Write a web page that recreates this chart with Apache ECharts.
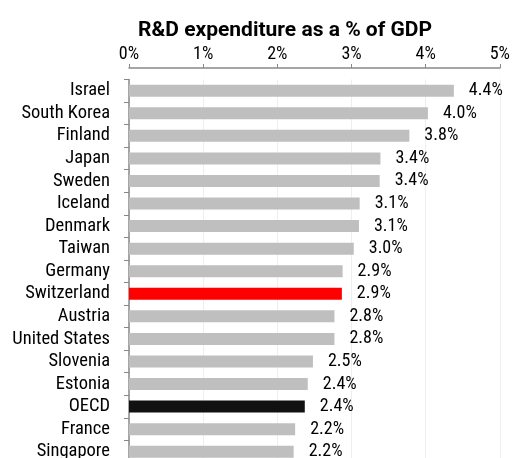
<!DOCTYPE html>
<html>
<head>
<meta charset="utf-8">
<script src="https://cdn.jsdelivr.net/npm/echarts@6/dist/echarts.min.js"></script>
<style>
  html, body { margin: 0; padding: 0; background: #fff; overflow: hidden; }
  #chart { width: 513px; height: 463px; }
</style>
</head>
<body>
<div id="chart"></div>
<script>
// countries, top to bottom
const countries = ["Israel", "South Korea", "Finland", "Japan", "Sweden", "Iceland", "Denmark", "Taiwan",
  "Germany", "Switzerland", "Austria", "United States", "Slovenia", "Estonia", "OECD", "France", "Singapore"];
// R&D spend, % of GDP
const values = [4.38, 4.03, 3.78, 3.39, 3.38, 3.11, 3.10, 3.03, 2.88, 2.87, 2.77, 2.77, 2.48, 2.41, 2.37, 2.24, 2.22];
const tickLabels = ["0%", "1%", "2%", "3%", "4%", "5%"];
const highlight = { "Switzerland": "#ff0000", "OECD": "#111111" };

const font = '"Roboto Condensed", "Roboto", sans-serif';
const chart = echarts.init(document.getElementById("chart"));

chart.setOption({
  animation: false,
  title: {
    text: "R&D expenditure as a % of GDP",
    left: 280,
    textAlign: "center",
    top: 15,
    textStyle: { fontFamily: "Roboto, sans-serif", fontSize: 21, fontWeight: "bold", color: "#000" },
  },
  grid: { left: 129, right: 11, top: 79.4, bottom: 0 },
  xAxis: {
    type: "value",
    position: "top",
    offset: 11.4,
    min: 0,
    max: 5,
    interval: 1,
    axisLine: { show: true, lineStyle: { color: "#888", width: 1.5 } },
    axisTick: { show: true, length: 4, lineStyle: { color: "#888" } },
    axisLabel: {
      margin: 5,
      fontFamily: font,
      fontSize: 18,
      color: "#000",
      formatter: (v) => tickLabels[Math.round(v)],
    },
    splitLine: { show: true, lineStyle: { color: "#eeeeee", width: 1 } },
  },
  yAxis: {
    type: "category",
    inverse: true,
    data: countries,
    axisLine: { show: true, lineStyle: { color: "#888", width: 1.5 } },
    axisTick: { show: true, length: 5, lineStyle: { color: "#888" } },
    axisLabel: { interval: 0, margin: 19, fontFamily: font, fontSize: 18.5, color: "#000" },
  },
  series: [
    {
      type: "bar",
      barWidth: 12,
      data: values.map((v, i) => ({
        value: v,
        itemStyle: { color: highlight[countries[i]] || "#bfbfbf" },
      })),
      label: {
        show: true,
        position: "right",
        distance: 15,
        fontFamily: font,
        fontSize: 18,
        color: "#000",
        formatter: (p) => p.value.toFixed(1) + "%",
      },
    },
  ],
});
</script>
</body>
</html>
